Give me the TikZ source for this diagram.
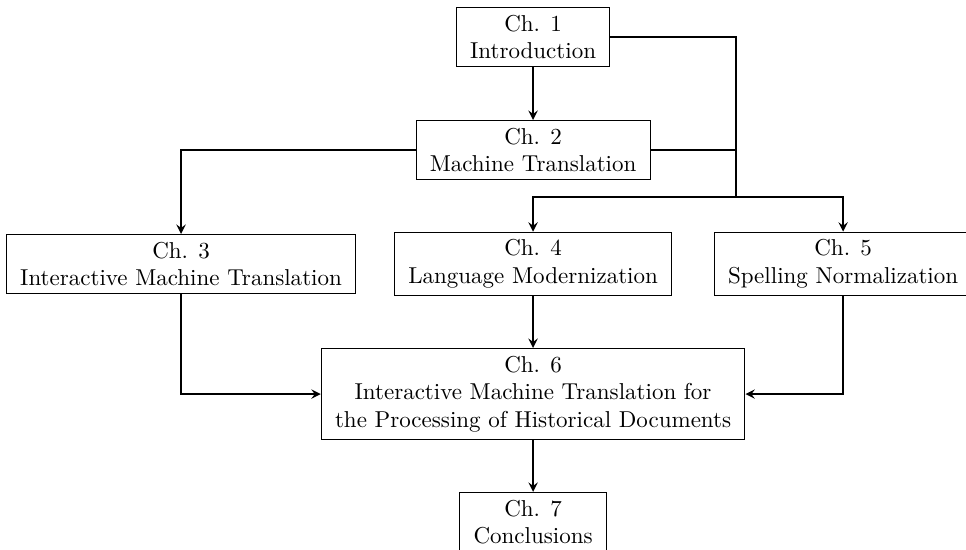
\documentclass[tikz,border=0pt]{standalone}
\usepackage{tikz}

\begin{document}
\begin{tikzpicture}
	\tikzset{chapter/.style={draw, thin, align=center, inner xsep=6pt, inner ysep=3.3pt}}
	\tikzset{link/.style={thick, -stealth}}

	\useasboundingbox (0,0) rectangle (14.76,-8.39);

	\node[chapter] (intro) at (8.145,-0.565) {Ch. 1\\Introduction};
	\node[chapter] (mt) at (8.145,-2.292) {Ch. 2\\Machine Translation};
	\node[chapter] (imt) at (2.766,-4.034) {Ch. 3\\Interactive Machine Translation};
	\node[chapter] (modern) at (8.145,-4.034) {Ch. 4\\Language Modernization};
	\node[chapter] (spelling) at (12.882,-4.034) {Ch. 5\\Spelling Normalization};
	\node[chapter] (hist) at (8.145,-6.021) {Ch. 6\\Interactive Machine Translation for\\the Processing of Historical Documents};
	\node[chapter] (concl) at (8.145,-7.977) {Ch. 7\\Conclusions};

	\coordinate (split) at (11.247,-3.01);

	\draw[link] (intro) -- (mt);
	\draw[thick] (intro.east) -| (split);
	\draw[thick] (mt.east) -| (split);
	\draw[link] (split) -| (modern.north);
	\draw[link] (split) -| (spelling.north);
	\draw[link] (mt.west) -| (imt.north);

	\draw[link] (imt.south) |- (hist.west);
	\draw[link] (spelling.south) |- (hist.east);
	\draw[link] (modern) -- (hist);
	\draw[link] (hist) -- (concl);
\end{tikzpicture}
\end{document}
